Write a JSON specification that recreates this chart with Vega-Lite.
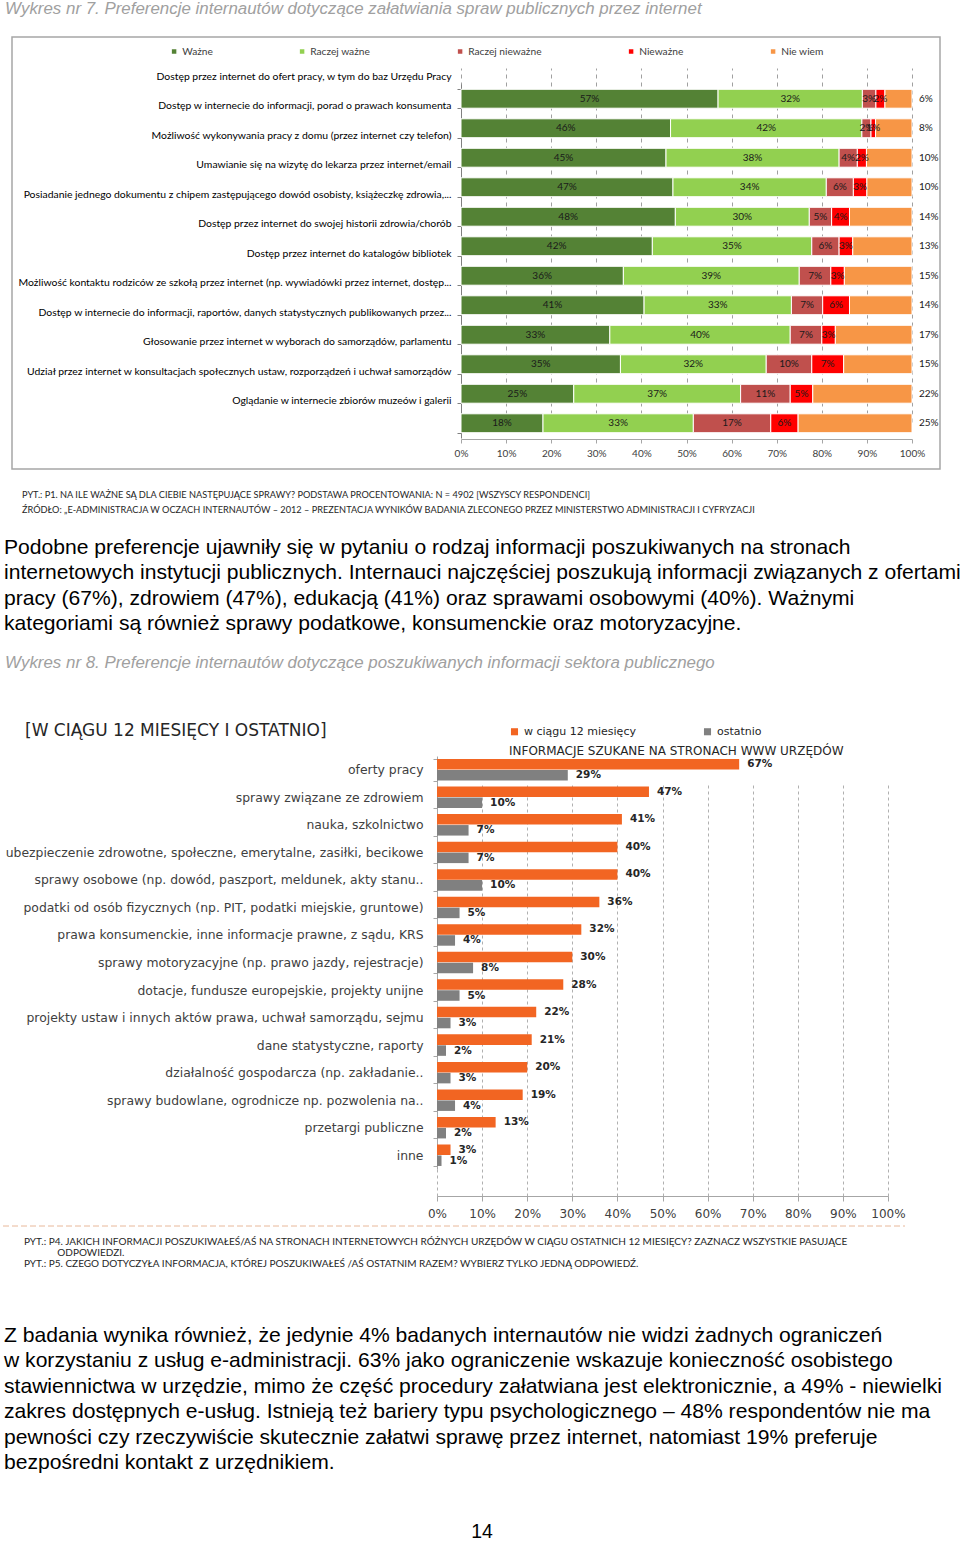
{
  "$schema": "https://vega.github.io/schema/vega-lite/v6.json",
  "background": "white",
  "padding": 0,
  "spacing": 0,
  "bounds": "flush",
  "center": true,
  "resolve": {"scale": {"color": "independent"}, "legend": {"color": "independent"}},
  "config": {"view": {"stroke": null}},
  "datasets": {
    "c1": [
      {"q": "Dostęp przez internet do ofert pracy, w tym do baz Urzędu Pracy", "Ważne": 0.57, "Raczej ważne": 0.32, "Raczej nieważne": 0.03, "Nieważne": 0.02, "Nie wiem": 0.06},
      {"q": "Dostęp w internecie do informacji, porad o prawach konsumenta", "Ważne": 0.46, "Raczej ważne": 0.42, "Raczej nieważne": 0.02, "Nieważne": 0.01, "Nie wiem": 0.08},
      {"q": "Możliwość wykonywania pracy z domu (przez internet czy telefon)", "Ważne": 0.45, "Raczej ważne": 0.38, "Raczej nieważne": 0.04, "Nieważne": 0.02, "Nie wiem": 0.10},
      {"q": "Umawianie się na wizytę do lekarza przez internet/email", "Ważne": 0.47, "Raczej ważne": 0.34, "Raczej nieważne": 0.06, "Nieważne": 0.03, "Nie wiem": 0.10},
      {"q": "Posiadanie jednego dokumentu z chipem zastępującego dowód osobisty, książeczkę zdrowia,...", "Ważne": 0.48, "Raczej ważne": 0.30, "Raczej nieważne": 0.05, "Nieważne": 0.04, "Nie wiem": 0.14},
      {"q": "Dostęp przez internet do swojej historii zdrowia/chorób", "Ważne": 0.42, "Raczej ważne": 0.35, "Raczej nieważne": 0.06, "Nieważne": 0.03, "Nie wiem": 0.13},
      {"q": "Dostęp przez internet do katalogów bibliotek", "Ważne": 0.36, "Raczej ważne": 0.39, "Raczej nieważne": 0.07, "Nieważne": 0.03, "Nie wiem": 0.15},
      {"q": "Możliwość kontaktu rodziców ze szkołą przez internet (np. wywiadówki przez internet, dostęp...", "Ważne": 0.41, "Raczej ważne": 0.33, "Raczej nieważne": 0.07, "Nieważne": 0.06, "Nie wiem": 0.14},
      {"q": "Dostęp w internecie do informacji, raportów, danych statystycznych publikowanych przez...", "Ważne": 0.33, "Raczej ważne": 0.40, "Raczej nieważne": 0.07, "Nieważne": 0.03, "Nie wiem": 0.17},
      {"q": "Głosowanie przez internet w wyborach do samorządów, parlamentu", "Ważne": 0.35, "Raczej ważne": 0.32, "Raczej nieważne": 0.10, "Nieważne": 0.07, "Nie wiem": 0.15},
      {"q": "Udział przez internet w konsultacjach społecznych ustaw, rozporządzeń i uchwał samorządów", "Ważne": 0.25, "Raczej ważne": 0.37, "Raczej nieważne": 0.11, "Nieważne": 0.05, "Nie wiem": 0.22},
      {"q": "Oglądanie w internecie zbiorów muzeów i galerii", "Ważne": 0.18, "Raczej ważne": 0.33, "Raczej nieważne": 0.17, "Nieważne": 0.06, "Nie wiem": 0.25}
    ],
    "c2": [
      {"q": "oferty pracy", "w ciągu 12 miesięcy": 0.67, "ostatnio": 0.29},
      {"q": "sprawy związane ze zdrowiem", "w ciągu 12 miesięcy": 0.47, "ostatnio": 0.10},
      {"q": "nauka, szkolnictwo", "w ciągu 12 miesięcy": 0.41, "ostatnio": 0.07},
      {"q": "ubezpieczenie zdrowotne, społeczne, emerytalne, zasiłki, becikowe", "w ciągu 12 miesięcy": 0.40, "ostatnio": 0.07},
      {"q": "sprawy osobowe (np. dowód, paszport, meldunek, akty stanu..", "w ciągu 12 miesięcy": 0.40, "ostatnio": 0.10},
      {"q": "podatki od osób fizycznych (np. PIT, podatki miejskie, gruntowe)", "w ciągu 12 miesięcy": 0.36, "ostatnio": 0.05},
      {"q": "prawa konsumenckie, inne informacje prawne, z sądu, KRS", "w ciągu 12 miesięcy": 0.32, "ostatnio": 0.04},
      {"q": "sprawy motoryzacyjne (np. prawo jazdy, rejestracje)", "w ciągu 12 miesięcy": 0.30, "ostatnio": 0.08},
      {"q": "dotacje, fundusze europejskie, projekty unijne", "w ciągu 12 miesięcy": 0.28, "ostatnio": 0.05},
      {"q": "projekty ustaw i innych aktów prawa, uchwał samorządu, sejmu", "w ciągu 12 miesięcy": 0.22, "ostatnio": 0.03},
      {"q": "dane statystyczne, raporty", "w ciągu 12 miesięcy": 0.21, "ostatnio": 0.02},
      {"q": "działalność gospodarcza (np. zakładanie..", "w ciągu 12 miesięcy": 0.20, "ostatnio": 0.03},
      {"q": "sprawy budowlane, ogrodnicze np. pozwolenia na..", "w ciągu 12 miesięcy": 0.19, "ostatnio": 0.04},
      {"q": "przetargi publiczne", "w ciągu 12 miesięcy": 0.13, "ostatnio": 0.02},
      {"q": "inne", "w ciągu 12 miesięcy": 0.03, "ostatnio": 0.01}
    ]
  },
  "vconcat": [
    {
      "width": 952, "height": 36,
      "data": {"values": [{"i": 0, "t": "Wykres nr 7. Preferencje internautów dotyczące załatwiania spraw publicznych przez internet"}]},
      "mark": {"type": "text", "align": "left", "baseline": "middle", "font": "Liberation Sans", "fontStyle": "italic", "fontSize": 16.9, "color": "#a0a0a0"},
      "encoding": {
        "x": {"datum": 5, "type": "quantitative", "scale": {"domain": [0, 952], "nice": false, "zero": false}, "axis": null},
        "y": {"field": "i", "type": "ordinal", "scale": {"range": [8, 8], "padding": 0}, "axis": null},
        "text": {"field": "t", "type": "nominal"}
      }
    },
    {
      "width": 928, "height": 432,
      "view": {"stroke": "#a6a6a6", "strokeWidth": 1.5},
      "data": {"name": "c1"},
      "transform": [{"fold": ["Ważne", "Raczej ważne", "Raczej nieważne", "Nieważne", "Nie wiem"], "as": ["c", "v"]}],
      "encoding": {
        "y": {"field": "q", "type": "nominal", "sort": null,
          "scale": {"range": [47, 401], "paddingInner": 0.36, "paddingOuter": 0.18},
          "axis": {"title": null, "offset": -449, "labelLimit": 0, "labelFont": "Lato", "labelFontSize": 10.4, "labelColor": "#000000", "labelOffset": -22.5, "labelPadding": 6, "tickBand": "extent", "tickSize": 4, "tickColor": "#808080", "domainColor": "#808080"}}
      },
      "layer": [
        {
          "mark": {"type": "bar", "stroke": "white", "strokeWidth": 1},
          "encoding": {
            "x": {"field": "v", "type": "quantitative", "stack": "normalize",
              "scale": {"domain": [0, 1], "range": [449, 900], "nice": false, "zero": false},
              "axis": {"title": null, "offset": -30, "format": ".0%", "values": [0, 0.1, 0.2, 0.3, 0.4, 0.5, 0.6, 0.7, 0.8, 0.9, 1], "labelOverlap": false, "labelFlush": false, "grid": true, "gridDash": [4, 4], "gridColor": "#a0a0a0", "domainColor": "#a6a6a6", "tickColor": "#a6a6a6", "tickSize": 4, "labelFont": "Lato", "labelFontSize": 10, "labelColor": "#404040", "labelPadding": 5}},
            "color": {"field": "c", "type": "nominal",
              "scale": {"domain": ["Ważne", "Raczej ważne", "Raczej nieważne", "Nieważne", "Nie wiem"], "range": ["#548235", "#92d050", "#c0504d", "#ff0000", "#f79646"]},
              "legend": {"orient": "none", "legendX": 157, "legendY": 9, "direction": "horizontal", "title": null, "symbolType": "square", "symbolSize": 36, "labelFont": "Lato", "labelFontSize": 10.2, "labelColor": "#404040", "columnPadding": 83, "labelOffset": 3}},
            "order": {"field": "c", "sort": "descending"}
          }
        },
        {
          "mark": {"type": "text", "font": "Lato", "fontSize": 10, "color": "#1a1a1a", "baseline": "middle"},
          "encoding": {
            "x": {"field": "v", "type": "quantitative", "stack": "normalize", "bandPosition": 0.5},
            "detail": {"field": "c"},
            "order": {"field": "c", "sort": "descending"},
            "text": {"condition": {"test": "datum.c === 'Nie wiem'", "value": ""}, "field": "v", "type": "quantitative", "format": ".0%"}
          }
        },
        {
          "transform": [{"filter": "datum.c === 'Nie wiem'"}],
          "mark": {"type": "text", "align": "left", "baseline": "middle", "dx": 7, "font": "Lato", "fontSize": 10, "color": "#1a1a1a"},
          "encoding": {
            "x": {"datum": 1, "type": "quantitative"},
            "text": {"field": "v", "type": "quantitative", "format": ".0%"}
          }
        }
      ]
    },
    {
      "width": 952, "height": 52,
      "data": {"values": [
        {"i": 0, "t": "PYT.: P1. NA ILE WAŻNE SĄ DLA CIEBIE NASTĘPUJĄCE SPRAWY? PODSTAWA PROCENTOWANIA: N = 4902 [WSZYSCY RESPONDENCI]"},
        {"i": 1, "t": "ŹRÓDŁO: „E-ADMINISTRACJA W OCZACH INTERNAUTÓW – 2012 – PREZENTACJA WYNIKÓW BADANIA ZLECONEGO PRZEZ MINISTERSTWO ADMINISTRACJI I CYFRYZACJI"}
      ]},
      "mark": {"type": "text", "align": "left", "baseline": "middle", "font": "Lato", "fontSize": 9.2, "color": "#262626"},
      "encoding": {
        "x": {"datum": 22, "type": "quantitative", "scale": {"domain": [0, 952], "nice": false, "zero": false}, "axis": null},
        "y": {"field": "i", "type": "ordinal", "scale": {"range": [26, 41], "padding": 0}, "axis": null},
        "text": {"field": "t", "type": "nominal"}
      }
    },
    {
      "width": 952, "height": 125,
      "data": {"values": [
        {"i": 0, "t": "Podobne preferencje ujawniły się w pytaniu o rodzaj informacji poszukiwanych na stronach"},
        {"i": 1, "t": "internetowych instytucji publicznych. Internauci najczęściej poszukują informacji związanych z ofertami"},
        {"i": 2, "t": "pracy (67%), zdrowiem (47%), edukacją (41%) oraz sprawami osobowymi (40%). Ważnymi"},
        {"i": 3, "t": "kategoriami są również sprawy podatkowe, konsumenckie oraz motoryzacyjne."}
      ]},
      "mark": {"type": "text", "align": "left", "baseline": "middle", "font": "Liberation Sans", "fontSize": 21.1, "color": "#000000"},
      "encoding": {
        "x": {"datum": 4, "type": "quantitative", "scale": {"domain": [0, 952], "nice": false, "zero": false}, "axis": null},
        "y": {"field": "i", "type": "ordinal", "scale": {"range": [27, 103], "padding": 0}, "axis": null},
        "text": {"field": "t", "type": "nominal"}
      }
    },
    {
      "width": 952, "height": 55,
      "data": {"values": [{"i": 0, "t": "Wykres nr 8. Preferencje internautów dotyczące poszukiwanych informacji sektora publicznego"}]},
      "mark": {"type": "text", "align": "left", "baseline": "middle", "font": "Liberation Sans", "fontStyle": "italic", "fontSize": 16.9, "color": "#a0a0a0"},
      "encoding": {
        "x": {"datum": 5, "type": "quantitative", "scale": {"domain": [0, 952], "nice": false, "zero": false}, "axis": null},
        "y": {"field": "i", "type": "ordinal", "scale": {"range": [17, 17], "padding": 0}, "axis": null},
        "text": {"field": "t", "type": "nominal"}
      }
    },
    {
      "width": 952, "height": 55,
      "data": {"values": [{"i": 0, "t": "[W CIĄGU 12 MIESIĘCY I OSTATNIO]"}]},
      "mark": {"type": "text", "align": "left", "baseline": "middle", "font": "DejaVu Sans", "fontSize": 17, "color": "#262626"},
      "encoding": {
        "x": {"datum": 25, "type": "quantitative", "scale": {"domain": [0, 952], "nice": false, "zero": false}, "axis": null},
        "y": {"field": "i", "type": "ordinal", "scale": {"range": [30, 30], "padding": 0}, "axis": null},
        "text": {"field": "t", "type": "nominal"}
      }
    },
    {
      "width": 952, "height": 440,
      "data": {"name": "c2"},
      "transform": [{"fold": ["w ciągu 12 miesięcy", "ostatnio"], "as": ["s", "v"]}],
      "encoding": {
        "y": {"field": "q", "type": "nominal", "sort": null,
          "scale": {"range": [0, 413], "paddingInner": 0.22, "paddingOuter": 0.11},
          "axis": {"title": null, "offset": -437, "labelLimit": 0, "labelFont": "DejaVu Sans", "labelFontSize": 12.4, "labelColor": "#404040", "labelPadding": 10, "tickBand": "extent", "tickSize": 4, "tickColor": "#a6a6a6", "domainColor": "#a6a6a6"}},
        "yOffset": {"field": "s", "type": "nominal", "sort": ["w ciągu 12 miesięcy", "ostatnio"], "scale": {"paddingInner": 0.04}},
        "x": {"field": "v", "type": "quantitative",
          "scale": {"domain": [0, 1], "range": [437, 888], "nice": false, "zero": false},
          "axis": {"title": null, "format": ".0%", "values": [0, 0.1, 0.2, 0.3, 0.4, 0.5, 0.6, 0.7, 0.8, 0.9, 1], "labelOverlap": false, "labelFlush": false, "grid": true, "gridDash": [3, 3], "gridColor": "#b0b0b0", "domainColor": "#a6a6a6", "tickColor": "#a6a6a6", "tickSize": 5, "labelFont": "DejaVu Sans", "labelFontSize": 12, "labelColor": "#404040", "labelPadding": 7}}
      },
      "layer": [
        {
          "mark": {"type": "bar"},
          "encoding": {
            "color": {"field": "s", "type": "nominal",
              "scale": {"domain": ["w ciągu 12 miesięcy", "ostatnio"], "range": ["#f26522", "#808080"]},
              "legend": {"orient": "none", "legendX": 509, "legendY": -30, "direction": "horizontal", "title": "INFORMACJE SZUKANE NA STRONACH WWW URZĘDÓW", "titleOrient": "bottom", "titleAnchor": "start", "titleFont": "DejaVu Sans", "titleFontSize": 12, "titleFontWeight": "normal", "titleColor": "#262626", "titlePadding": 9, "titleLimit": 0, "labelFont": "DejaVu Sans", "labelFontSize": 11, "labelColor": "#262626", "symbolType": "square", "symbolSize": 50, "columnPadding": 66}}
          }
        },
        {
          "mark": {"type": "text", "align": "left", "baseline": "middle", "dx": 8, "font": "DejaVu Sans", "fontWeight": "bold", "fontSize": 10.5, "color": "#262626"},
          "encoding": {
            "text": {"field": "v", "type": "quantitative", "format": ".0%"}
          }
        }
      ]
    },
    {
      "width": 952, "height": 85,
      "resolve": {"scale": {"y": "independent"}},
      "layer": [
        {
          "data": {"values": [{"k": 0}]},
          "mark": {"type": "rule", "color": "#e8b89a", "strokeDash": [6, 3], "strokeWidth": 1},
          "encoding": {
            "x": {"datum": 3, "type": "quantitative", "scale": {"domain": [0, 952], "nice": false, "zero": false}, "axis": null},
            "x2": {"datum": 905},
            "y": {"datum": 30, "type": "quantitative", "scale": {"domain": [0, 85], "range": [0, 85], "nice": false, "zero": false}, "axis": null}
          }
        },
        {
          "data": {"values": [
            {"i": 0, "t": "PYT.: P4. JAKICH INFORMACJI POSZUKIWAŁEŚ/AŚ NA STRONACH INTERNETOWYCH RÓŻNYCH URZĘDÓW W CIĄGU OSTATNICH 12 MIESIĘCY? ZAZNACZ WSZYSTKIE PASUJĄCE"},
            {"i": 1, "t": "\u200b\u00a0\u00a0\u00a0\u00a0\u00a0\u00a0\u00a0\u00a0\u00a0\u00a0\u00a0\u00a0\u00a0ODPOWIEDZI."},
            {"i": 2, "t": "PYT.: P5. CZEGO DOTYCZYŁA INFORMACJA, KTÓREJ POSZUKIWAŁEŚ /AŚ OSTATNIM RAZEM? WYBIERZ TYLKO JEDNĄ ODPOWIEDŹ."}
          ]},
          "mark": {"type": "text", "align": "left", "baseline": "middle", "font": "Lato", "fontSize": 10, "color": "#262626"},
          "encoding": {
            "x": {"datum": 24, "type": "quantitative"},
            "y": {"field": "i", "type": "ordinal", "scale": {"range": [46, 68], "padding": 0}, "axis": null},
            "text": {"field": "t", "type": "nominal"}
          }
        }
      ]
    },
    {
      "width": 952, "height": 220,
      "data": {"values": [
        {"i": 0, "t": "Z badania wynika również, że jedynie 4% badanych internautów nie widzi żadnych ograniczeń"},
        {"i": 1, "t": "w korzystaniu z usług e-administracji. 63% jako ograniczenie wskazuje konieczność osobistego"},
        {"i": 2, "t": "stawiennictwa w urzędzie, mimo że część procedury załatwiana jest elektronicznie, a 49% - niewielki"},
        {"i": 3, "t": "zakres dostępnych e-usług. Istnieją też bariery typu psychologicznego – 48% respondentów nie ma"},
        {"i": 4, "t": "pewności czy rzeczywiście skutecznie załatwi sprawę przez internet, natomiast 19% preferuje"},
        {"i": 5, "t": "bezpośredni kontakt z urzędnikiem."}
      ]},
      "mark": {"type": "text", "align": "left", "baseline": "middle", "font": "Liberation Sans", "fontSize": 21.1, "color": "#000000"},
      "encoding": {
        "x": {"datum": 4, "type": "quantitative", "scale": {"domain": [0, 952], "nice": false, "zero": false}, "axis": null},
        "y": {"field": "i", "type": "ordinal", "scale": {"range": [55, 182], "padding": 0}, "axis": null},
        "text": {"field": "t", "type": "nominal"}
      }
    },
    {
      "width": 952, "height": 42,
      "data": {"values": [{"i": 0, "t": "14"}]},
      "mark": {"type": "text", "align": "center", "baseline": "middle", "font": "Liberation Sans", "fontSize": 19.4, "color": "#000000"},
      "encoding": {
        "x": {"datum": 482, "type": "quantitative", "scale": {"domain": [0, 952], "nice": false, "zero": false}, "axis": null},
        "y": {"field": "i", "type": "ordinal", "scale": {"range": [31, 31], "padding": 0}, "axis": null},
        "text": {"field": "t", "type": "nominal"}
      }
    }
  ]
}
